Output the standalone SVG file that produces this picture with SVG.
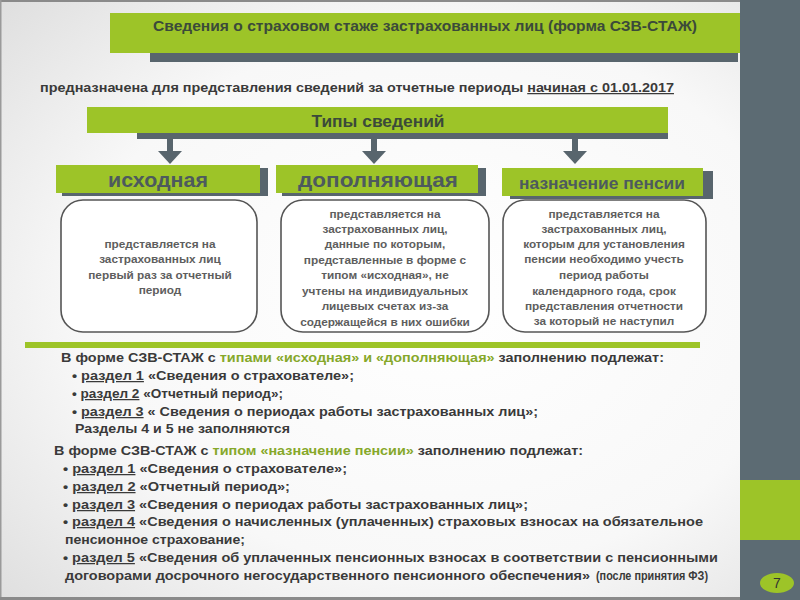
<svg xmlns="http://www.w3.org/2000/svg" width="800" height="600" viewBox="0 0 800 600">
<defs>
<radialGradient id="bg" cx="0.55" cy="0.5" r="0.75">
<stop offset="0" stop-color="#ffffff"/>
<stop offset="0.6" stop-color="#f8f8f8"/>
<stop offset="1" stop-color="#dedede"/>
</radialGradient>
<style>
.g{fill:#9dc428}
.sh{fill:#58656d}
.hd{font-family:"Liberation Sans",Arial,sans-serif;font-weight:bold;fill:#3b4a3a}
.tp{font-family:"Liberation Sans",Arial,sans-serif;font-weight:bold;fill:#4d5a5e;text-anchor:middle}
.box{fill:#ffffff;stroke:#555555;stroke-width:1.6}
.bt{font-family:"Liberation Sans",Arial,sans-serif;font-size:11.8px;font-weight:bold;fill:#5e5e5e;text-anchor:middle}
.tx{font-family:"Liberation Sans",Arial,sans-serif;font-size:12.5px;font-weight:bold;fill:#3a3a3a}
.gr{fill:#86a82a}
.u{text-decoration:underline}
.arr{fill:#58656d}
</style>
</defs>
<rect x="0" y="0" width="800" height="600" fill="url(#bg)"/>
<rect x="0" y="0" width="740" height="2" fill="#8a8a8a"/>
<rect x="0" y="0" width="1.5" height="600" fill="#9a9a9a"/>
<rect x="0" y="597" width="740" height="3" fill="#8a8a8a"/>
<g id="sidebar">
<rect x="740" y="0" width="60" height="600" fill="#5c6b73"/>
<rect x="740" y="480" width="60" height="60" class="g"/>
<ellipse cx="777" cy="583" rx="17" ry="10" class="g"/>
<text x="777" y="588" font-family="Liberation Sans,Arial,sans-serif" font-size="14" fill="#333" text-anchor="middle">7</text>
</g>
<g id="title">
<rect x="150" y="53" width="588" height="9" class="sh"/>
<rect x="110" y="13" width="630" height="40" class="g"/>
<text x="425" y="31" class="hd" font-size="14" text-anchor="middle" textLength="544" lengthAdjust="spacingAndGlyphs">Сведения о страховом стаже застрахованных лиц (форма СЗВ-СТАЖ)</text>
</g>
<g id="subtitle">
<text x="40" y="92" class="tx" font-size="12.5" fill="#404040" textLength="634" lengthAdjust="spacingAndGlyphs">предназначена для представления сведений за отчетные периоды <tspan class="u">начиная с 01.01.2017</tspan></text>
</g>
<g id="types">
<rect x="137" y="133" width="531" height="6" class="sh"/>
<rect x="87" y="107" width="581" height="26" class="g"/>
<text x="378" y="127" class="hd" font-size="16" text-anchor="middle" textLength="133" lengthAdjust="spacingAndGlyphs">Типы сведений</text>
</g>
<g id="connectors">
<rect x="167" y="139" width="6" height="13" class="arr"/>
<polygon points="158,151 182,151 170,164" class="arr"/>
<rect x="371" y="139" width="6" height="13" class="arr"/>
<polygon points="362,151 386,151 374,164" class="arr"/>
<rect x="572" y="139" width="6" height="13" class="arr"/>
<polygon points="563,151 587,151 575,164" class="arr"/>
</g>
<g id="type-ishodnaya">
<rect x="62" y="168" width="206" height="28" class="sh"/>
<rect x="56" y="165" width="204" height="28" class="g"/>
<text x="158" y="187" class="tp" font-size="20" textLength="100" lengthAdjust="spacingAndGlyphs">исходная</text>
</g>
<g id="type-dopolnyayushchaya">
<rect x="282" y="168" width="204" height="28" class="sh"/>
<rect x="276" y="165" width="202" height="28" class="g"/>
<text x="378" y="187" class="tp" font-size="20" textLength="160" lengthAdjust="spacingAndGlyphs">дополняющая</text>
</g>
<g id="type-naznachenie">
<rect x="510" y="171" width="203" height="28" class="sh"/>
<rect x="502" y="168" width="201" height="28" class="g"/>
<text x="602" y="189" class="tp" font-size="16.5" textLength="166" lengthAdjust="spacingAndGlyphs">назначение пенсии</text>
</g>
<g id="desc-ishodnaya">
<rect x="61" y="200" width="196" height="132" rx="22" class="box"/>
<text class="bt"><tspan x="160" y="248">представляется на</tspan><tspan x="160" y="263">застрахованных лиц</tspan><tspan x="160" y="279">первый раз за отчетный</tspan><tspan x="160" y="294">период</tspan></text>
</g>
<g id="desc-dopolnyayushchaya">
<rect x="281" y="200" width="208" height="132" rx="22" class="box"/>
<text class="bt"><tspan x="385" y="218">представляется на</tspan><tspan x="385" y="233">застрахованных лиц,</tspan><tspan x="385" y="248">данные по которым,</tspan><tspan x="385" y="264">представленные в форме с</tspan><tspan x="385" y="279">типом «исходная», не</tspan><tspan x="385" y="295">учтены на индивидуальных</tspan><tspan x="385" y="310">лицевых счетах из-за</tspan><tspan x="385" y="326">содержащейся в них ошибки</tspan></text>
</g>
<g id="desc-naznachenie">
<rect x="503" y="200" width="203" height="132" rx="22" class="box"/>
<text class="bt"><tspan x="604" y="218">представляется на</tspan><tspan x="604" y="233">застрахованных лиц,</tspan><tspan x="604" y="248">которым для установления</tspan><tspan x="604" y="263">пенсии необходимо учесть</tspan><tspan x="604" y="279">период работы</tspan><tspan x="604" y="295">календарного года, срок</tspan><tspan x="604" y="310">представления отчетности</tspan><tspan x="604" y="325">за который не наступил</tspan></text>
</g>
<rect x="25" y="342" width="675" height="6" class="g"/>
<g id="section1">
<text x="61" y="362" class="tx" textLength="603" lengthAdjust="spacingAndGlyphs">В форме СЗВ-СТАЖ с <tspan class="gr">типами «исходная» и «дополняющая»</tspan> заполнению подлежат:</text>
<text x="72" y="380" class="tx" textLength="282" lengthAdjust="spacingAndGlyphs">• <tspan class="u">раздел 1</tspan> «Сведения о страхователе»;</text>
<text x="72" y="398" class="tx" textLength="211" lengthAdjust="spacingAndGlyphs">• <tspan class="u">раздел 2</tspan> «Отчетный период»;</text>
<text x="72" y="416" class="tx" textLength="466" lengthAdjust="spacingAndGlyphs">• <tspan class="u">раздел 3</tspan> « Сведения о периодах работы застрахованных лиц»;</text>
<text x="75" y="433" class="tx" textLength="215" lengthAdjust="spacingAndGlyphs">Разделы 4 и 5 не заполняются</text>
</g>
<g id="section2">
<text x="54" y="455" class="tx" font-weight="normal" textLength="529" lengthAdjust="spacingAndGlyphs">В форме СЗВ-СТАЖ с <tspan class="gr">типом «назначение пенсии»</tspan> заполнению подлежат:</text>
<text x="63" y="473" class="tx" textLength="284" lengthAdjust="spacingAndGlyphs">• <tspan class="u">раздел 1</tspan> «Сведения о страхователе»;</text>
<text x="63" y="491" class="tx" textLength="227" lengthAdjust="spacingAndGlyphs">• <tspan class="u">раздел 2</tspan> «Отчетный период»;</text>
<text x="63" y="509" class="tx" textLength="465" lengthAdjust="spacingAndGlyphs">• <tspan class="u">раздел 3</tspan> «Сведения о периодах работы застрахованных лиц»;</text>
<text x="63" y="526" class="tx" textLength="640" lengthAdjust="spacingAndGlyphs">• <tspan class="u">раздел 4</tspan> «Сведения о начисленных (уплаченных) страховых взносах на обязательное</text>
<text x="65" y="544" class="tx" textLength="180" lengthAdjust="spacingAndGlyphs">пенсионное страхование;</text>
<text x="63" y="562" class="tx" textLength="655" lengthAdjust="spacingAndGlyphs">• <tspan class="u">раздел 5</tspan> «Сведения об уплаченных пенсионных взносах в соответствии с пенсионными</text>
<text x="65" y="580" class="tx" textLength="525" lengthAdjust="spacingAndGlyphs">договорами досрочного негосударственного пенсионного обеспечения»</text>
<text x="596" y="580" class="tx" font-size="9" font-weight="normal" textLength="112" lengthAdjust="spacingAndGlyphs">(после принятия ФЗ)</text>
</g>
</svg>
